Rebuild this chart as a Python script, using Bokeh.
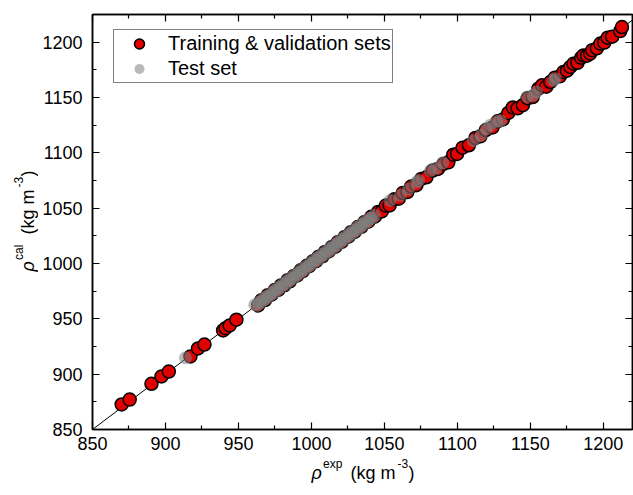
import math
from bokeh.plotting import figure
from bokeh.layouts import row, column
from bokeh.models import Label, LinearAxis, Range1d, FixedTicker
from bokeh.embed import file_html
from bokeh.resources import INLINE

# ---- data ----
train_exp = [870.0, 875.5, 890.4, 897.3, 902.3, 917.1, 922.3, 926.7, 939.5, 941.2, 944.0, 948.6,
             963.5, 965.8, 968.2, 970.1, 972.6, 974.9, 977.3, 979.0, 981.4, 983.7, 985.2, 987.9,
             990.3, 992.6, 994.1, 996.8, 998.5, 1000.9, 1003.2, 1005.0, 1007.6, 1009.3, 1011.8,
             1014.1, 1016.4, 1018.0, 1020.7, 1022.9, 1025.3, 1027.1, 1029.6, 1031.8, 1034.2,
             1036.5, 1038.9, 1041.0, 1043.4, 1045.7,
             1048.2, 1051.0, 1053.6, 1056.9, 1059.8, 1062.5, 1065.7, 1068.4, 1071.9, 1075.3,
             1078.8, 1083.1, 1086.7, 1090.5, 1093.8, 1097.2, 1099.8, 1103.6, 1107.9, 1112.4,
             1115.8, 1119.5, 1124.1, 1127.6, 1131.2, 1134.9, 1138.0, 1141.3, 1144.9, 1148.2,
             1151.6, 1155.5, 1158.0, 1160.9, 1163.7, 1166.8, 1170.2, 1172.6, 1175.1, 1177.4,
             1179.6, 1182.3, 1184.8, 1186.4, 1188.9, 1191.0, 1192.4, 1195.6, 1198.0, 1200.7,
             1203.0, 1206.1, 1211.6, 1212.8]
train_cal = [872.6, 877.0, 891.3, 897.9, 902.4, 916.0, 923.2, 926.8, 939.5, 941.5, 944.0, 949.2,
             962.1, 966.9, 967.0, 971.4, 971.8, 976.0, 976.2, 980.1, 980.3, 984.9, 983.9, 988.6,
             989.2, 993.8, 993.0, 997.9, 997.6, 1002.0, 1002.1, 1006.2, 1006.5, 1010.4, 1010.9,
             1015.0, 1015.2, 1019.1, 1019.6, 1024.0, 1024.2, 1028.3, 1028.5, 1032.9, 1033.1,
             1037.6, 1037.8, 1042.2, 1042.3, 1046.6,
             1047.0, 1052.3, 1052.5, 1058.1, 1058.6, 1063.7, 1064.5, 1069.6, 1070.8, 1076.4,
             1077.9, 1084.0, 1085.5, 1090.0, 1091.4, 1098.3, 1099.0, 1104.7, 1106.8, 1113.5,
             1114.9, 1120.6, 1123.0, 1128.5, 1130.2, 1136.0, 1141.0, 1140.2, 1143.0, 1149.3,
             1150.4, 1158.0, 1161.0, 1159.8, 1164.0, 1167.9, 1169.1, 1173.0, 1174.2, 1177.6,
             1180.6, 1181.4, 1185.9, 1188.0, 1187.8, 1189.7, 1192.7, 1194.5, 1198.7, 1199.6,
             1204.0, 1205.0, 1210.0, 1213.7]

test_exp = [913.7, 961.2, 962.9, 964.0, 965.7, 966.8, 968.5, 969.4, 971.2, 972.3, 973.9, 975.0,
            976.7, 977.6, 979.4, 980.5, 982.1, 983.2, 984.9, 985.8, 987.6, 988.5, 990.3, 991.2,
            993.0, 993.9, 995.7, 996.6, 998.4, 999.3, 1001.1, 1002.0, 1003.8, 1004.7, 1006.5,
            1007.4, 1009.2, 1010.1, 1011.9, 1012.8, 1014.6, 1015.5, 1017.3, 1018.2, 1020.0,
            1020.9, 1022.7, 1023.6, 1025.4, 1026.3, 1028.1, 1029.0, 1030.8, 1031.7, 1033.5,
            1034.4, 1036.2, 1037.1, 1038.9, 1040.0, 1041.6, 1043.2,
            1054.0, 1061.0, 1066.5, 1072.0, 1073.5, 1081.5, 1085.3, 1090.0, 1111.0, 1116.2,
            1120.0, 1122.6, 1127.0, 1129.5, 1147.7, 1152.0, 1154.3, 1165.9, 1167.0]
test_cal = [914.8, 962.7, 962.3, 965.0, 965.1, 967.9, 967.7, 970.5, 970.4, 973.4, 973.1, 976.1,
            975.9, 978.8, 978.6, 981.6, 981.2, 984.3, 984.0, 987.0, 986.7, 989.7, 989.4, 992.4,
            992.2, 995.1, 994.8, 997.8, 997.5, 1000.5, 1000.2, 1003.2, 1002.9, 1005.9, 1005.6,
            1008.6, 1008.3, 1011.3, 1011.0, 1014.0, 1013.7, 1016.7, 1016.4, 1019.4, 1019.1,
            1022.1, 1021.8, 1024.8, 1024.5, 1027.5, 1027.2, 1030.2, 1029.9, 1032.9, 1032.6,
            1035.6, 1035.3, 1038.3, 1038.0, 1041.0, 1041.2, 1043.5,
            1057.0, 1061.6, 1067.0, 1073.6, 1075.0, 1084.0, 1086.0, 1091.0, 1111.0, 1115.8,
            1121.9, 1125.0, 1128.0, 1129.0, 1150.5, 1152.0, 1155.0, 1165.5, 1167.0]

diag = [850, 1230]
major_ticks = [850, 900, 950, 1000, 1050, 1100, 1150, 1200]
minor_ticks = [875, 925, 975, 1025, 1075, 1125, 1175, 1225]
x_lim = (850, 1220)
y_lim = (850, 1225)

FONT = "Liberation Sans"

YT_W = 38          # width of the strip holding the y title
MAIN_W = 633 - YT_W
MAIN_H = 458
XT_H = 495 - MAIN_H
FRAME_LEFT = 92    # page x of the plot frame's left edge

p = figure(width=MAIN_W, height=MAIN_H, output_backend="svg", toolbar_location=None,
           x_range=Range1d(*x_lim), y_range=Range1d(*y_lim),
           min_border_left=FRAME_LEFT - YT_W, min_border_right=1, min_border_top=14,
           min_border_bottom=29)
p.grid.visible = False
p.outline_line_color = "black"
p.outline_line_width = 1.5
p.background_fill_color = "white"
p.border_fill_color = "white"

p.line(diag, diag, line_color="black", line_width=1)
p.scatter(train_exp, train_cal, size=13, fill_color="#E00000", line_color="black",
          line_width=1.5, legend_label="Training & validation sets")
p.scatter(test_exp, test_cal, size=13, fill_color="#808080", fill_alpha=0.55,
          line_color=None, legend_label="Test set")

bottom_ax = p.below[0]
left_ax = p.left[0]

ticker = FixedTicker(ticks=major_ticks, minor_ticks=minor_ticks)
top_ax = LinearAxis(ticker=ticker, major_label_text_font_size="0px", major_label_standoff=0)
right_ax = LinearAxis(ticker=ticker, major_label_text_font_size="0px", major_label_standoff=0)
p.add_layout(top_ax, "above")
p.add_layout(right_ax, "right")

for ax in [bottom_ax, left_ax, top_ax, right_ax]:
    ax.ticker = ticker
    ax.axis_line_color = "black"
    ax.axis_line_width = 1.5
    ax.major_tick_in = 7
    ax.major_tick_out = 0
    ax.minor_tick_in = 4
    ax.minor_tick_out = 0
    ax.major_tick_line_color = "black"
    ax.minor_tick_line_color = "black"
    ax.major_tick_line_width = 1.2
    ax.minor_tick_line_width = 1.2
    ax.major_label_text_font = FONT
    ax.major_label_text_color = "black"

for ax in [bottom_ax, left_ax]:
    ax.major_label_text_font_size = "18px"
bottom_ax.major_label_standoff = 7
left_ax.major_label_standoff = 10

# legend
lg = p.legend[0]
lg.location = (21, 346)
lg.label_text_font = FONT
lg.label_text_font_size = "20px"
lg.label_text_color = "black"
lg.border_line_color = "black"
lg.border_line_width = 1.3
lg.background_fill_alpha = 1
lg.padding = 1
lg.margin = 0
lg.spacing = 0
lg.glyph_width = 48
lg.glyph_height = 25
lg.label_height = 25
lg.label_standoff = 5


def strip(w, h, xr, yr):
    f = figure(width=w, height=h, output_backend="svg", toolbar_location=None,
               x_range=Range1d(*xr), y_range=Range1d(*yr),
               x_axis_location=None, y_axis_location=None, min_border=0)
    f.grid.visible = False
    f.outline_line_color = None
    f.background_fill_color = "white"
    f.border_fill_color = "white"
    return f


def piece(f, txt, x, y, dx, dy, size, angle=0.0, italic=False):
    f.add_layout(Label(x=x, y=y, x_offset=dx, y_offset=dy, text=txt, angle=angle,
                       text_font=FONT, text_font_size=size,
                       text_font_style="italic" if italic else "normal",
                       text_color="black", text_align="left",
                       text_baseline="alphabetic"))


# pieces of the axis titles: (text, advance, size, raise, italic)
x_parts = [("\u03c1", 0, 18, 0, True), ("exp", 11.5, 12, 8.5, False), ("(kg m", 39, 18, 0, False),
           ("-3", 86, 12, 9, False), (")", 97, 18, 0, False)]
y_parts = [("\u03c1", 0, 18, 0, True), ("cal", 11.5, 12, 8.5, False), ("(kg m", 37, 18, 0, False),
           ("-3", 84, 12, 9, False), (")", 95, 18, 0, False)]

# x title strip: its frame lines up with the main frame (shared column alignment)
xt = strip(MAIN_W, XT_H, x_lim, (0, XT_H))
for t, d, s, r, it in x_parts:
    piece(xt, t, x_lim[0], 23, 311 - FRAME_LEFT + d, r, f"{s}px", 0.0, it)

yt = strip(YT_W, 495, (0, YT_W), (0, 495))
for t, d, s, r, it in y_parts:
    piece(yt, t, 27, 224, -r, d, f"{s}px", math.pi / 2, it)

layout = row(yt, column(p, xt, spacing=0), spacing=0)

open("out.html", "w").write(file_html(layout, INLINE))
